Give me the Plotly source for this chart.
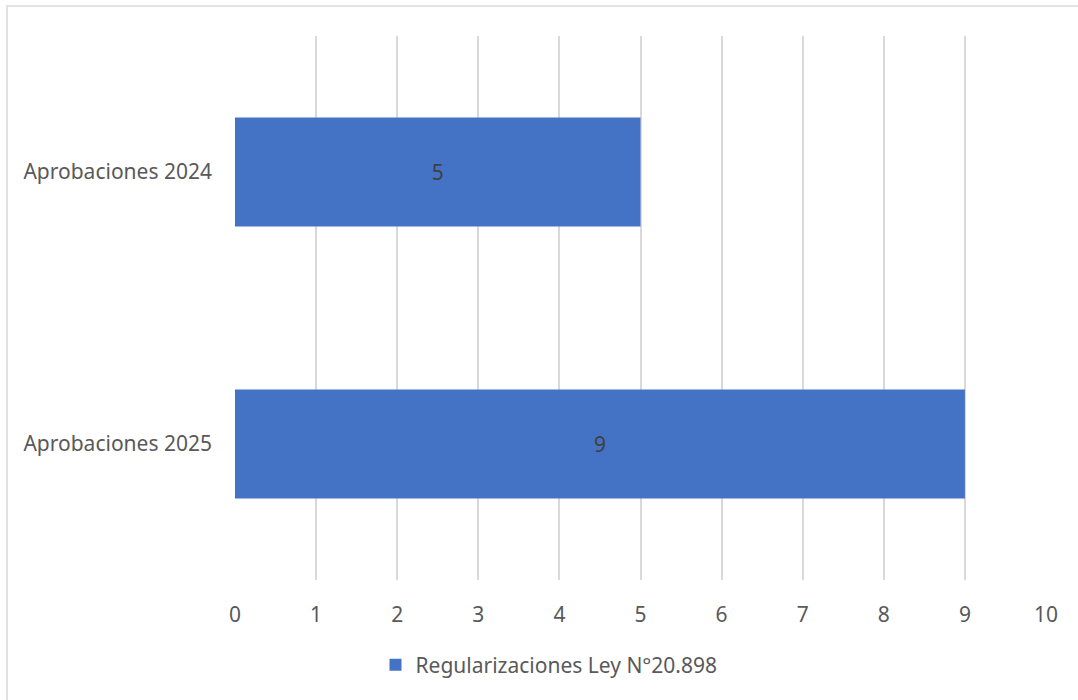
import plotly.graph_objects as go

categories = ["Aprobaciones 2024", "Aprobaciones 2025"]
values = [5, 9]
series_name = "Regularizaciones Ley N°20.898"
tick_vals = list(range(0, 11))

W, H = 1078, 700
L, R, T, B = 235, 32, 36, 120
pw, ph = W - L - R, H - T - B

def px_x(p):
    return (p - L) / pw

def px_y(p):
    return (H - B - p) / ph

FONT = "Noto Sans"
FS = 21

fig = go.Figure()
fig.add_trace(go.Bar(
    y=categories, x=values, orientation="h", name=series_name,
    marker=dict(color="#4472C4", line=dict(width=0)),
    text=[str(v) for v in values], textposition="inside", insidetextanchor="middle",
    textfont=dict(color="#404040", size=FS, family=FONT),
    showlegend=True,
))

fig.update_layout(
    width=W, height=H,
    margin=dict(l=L, r=R, t=T, b=B, pad=0),
    paper_bgcolor="white", plot_bgcolor="white",
    font=dict(family=FONT, size=FS, color="#595959"),
    bargap=0.6,
    xaxis=dict(range=[0, 10], tickvals=tick_vals, showgrid=True, gridcolor="#D9D9D9",
               gridwidth=1.5, zeroline=False, showline=False, ticks="",
               tickfont=dict(size=FS, color="#595959"), ticklabelstandoff=20, fixedrange=True),
    yaxis=dict(categoryorder="array", categoryarray=categories, range=[1.5, -0.5],
               showgrid=False, zeroline=False, showline=False, ticks="",
               tickfont=dict(size=FS, color="#595959"), ticklabelstandoff=22),
    legend=dict(orientation="h", xref="paper", x=px_x(549), xanchor="center",
                y=px_y(665), yanchor="middle",
                font=dict(size=FS, color="#595959"), itemwidth=30),
    uniformtext=dict(mode=False),
    shapes=[dict(type="rect", xref="paper", yref="paper",
                 x0=px_x(7), x1=px_x(1090), y0=px_y(712), y1=px_y(6),
                 line=dict(color="#D9D9D9", width=1.5), fillcolor="rgba(0,0,0,0)", layer="below")],
)

fig.write_html("out.html", config={"displayModeBar": False},
               post_script="document.body.style.margin='0';document.body.style.padding='0';")
